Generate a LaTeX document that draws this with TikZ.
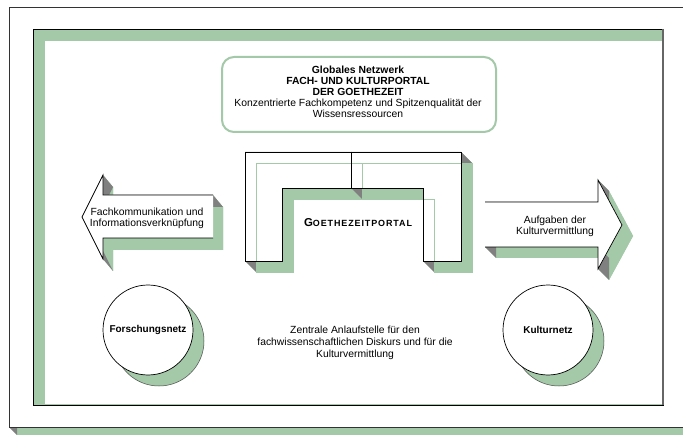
\documentclass[tikz,border=0pt]{standalone}
\usepackage{fontspec}
\setmainfont{Liberation Sans}
\definecolor{leaf}{RGB}{163,201,168}
\definecolor{bevel}{RGB}{128,128,128}
\begin{document}
\begin{tikzpicture}[x=1bp,y=-1bp,font=\fontsize{10.4}{11}\selectfont,
    edge/.style={draw=black,line width=0.7bp},
    backline/.style={leaf,line width=0.6bp},
    txt/.style={align=center,inner sep=0pt}]
    \useasboundingbox (0,0) rectangle (683,435);
    \clip (0,0) rectangle (683,435);
    % outer frame
    \fill[leaf] (17,15) rectangle (700,440);
    \fill[bevel] (9,427) -- (17,435) -- (17,427) -- cycle;
    \filldraw[fill=white,draw=black!80,line width=0.8bp] (9,7) rectangle (700,427);
    % inner frame
    \filldraw[fill=leaf,draw=black,line width=0.8bp] (33,29) rectangle (663,405);
    \fill[white] (45,41) rectangle (662,404);
    \draw[black!60,line width=1.6bp] (663,29) -- (663,405);
    % top box
    \draw[leaf,line width=2bp,rounded corners=12bp] (222,57) rectangle (496,132);
    \node[txt] (netz) at (358,92) {\textbf{Globales Netzwerk}\\ \textbf{FACH- UND KULTURPORTAL}\\ \textbf{DER GOETHEZEIT}\\ Konzentrierte Fachkompetenz und Spitzenqualität der\\ Wissensressourcen};
    % portal
    \fill[leaf,shift={(11,11)}] (245,152) -- (351,152) -- (351,188) -- (282,188) -- (282,261) -- (245,261) -- cycle;
    \fill[leaf,shift={(11,11)}] (351,152) -- (461,152) -- (461,261) -- (423,261) -- (423,188) -- (351,188) -- cycle;
    \foreach \xa/\ya/\xb/\yb/\c in {351/152/351/188/leaf, 351/188/282/188/leaf, 282/188/282/261/leaf, 282/261/245/261/leaf,
        461/152/461/261/leaf, 461/261/423/261/leaf, 423/188/351/188/leaf,
        245/261/245/152/bevel, 245/152/351/152/bevel, 351/152/461/152/bevel, 423/261/423/188/bevel, 351/188/351/152/bevel}
        \fill[\c] (\xa,\ya) -- (\xb,\yb) -- (\xb+11,\yb+11) -- (\xa+11,\ya+11) -- cycle;
    \fill[white] (245,152) -- (461,152) -- (461,261) -- (423,261) -- (423,188) -- (282,188) -- (282,261) -- (245,261) -- cycle;
    \draw[backline,shift={(11,11)}] (245,152) -- (461,152) -- (461,261) -- (423,261) -- (423,188) -- (282,188) -- (282,261) -- (245,261) -- cycle (351,152) -- (351,188);
    \draw[edge] (245,152) -- (461,152) -- (461,261) -- (423,261) -- (423,188) -- (282,188) -- (282,261) -- (245,261) -- cycle (351,152) -- (351,188);
    \node[txt,font=\bfseries] (portal) at (358,223) {{\fontsize{11.5}{12}\selectfont G}{\addfontfeature{LetterSpace=10}\fontsize{9}{10}\selectfont OETHEZEITPORTAL}};
    % left arrow
    \fill[leaf,shift={(10,12)}] (82,217) -- (103,175) -- (103,195) -- (213,195) -- (213,238) -- (103,238) -- (103,259) -- cycle;
    \foreach \xa/\ya/\xb/\yb/\c in {103/175/103/195/leaf, 213/195/213/238/leaf, 213/238/103/238/leaf, 103/238/103/259/leaf,
        82/217/103/175/bevel, 103/195/213/195/bevel, 103/259/82/217/bevel}
        \fill[\c] (\xa,\ya) -- (\xb,\yb) -- (\xb+10,\yb+12) -- (\xa+10,\ya+12) -- cycle;
    \fill[white] (82,217) -- (103,175) -- (103,195) -- (213,195) -- (213,238) -- (103,238) -- (103,259) -- cycle;
    \draw[edge] (213,195) -- (103,195) -- (103,175) -- (82,217) -- (103,259) -- (103,238) -- (213,238);
    \node[txt] (fachkomm) at (147,218) {Fachkommunikation und\\ Informationsverknüpfung};
    % right arrow
    \fill[leaf,shift={(11,11)}] (485,202) -- (598,202) -- (598,180) -- (622,225) -- (598,269) -- (598,247) -- (485,247) -- cycle;
    \foreach \xa/\ya/\xb/\yb/\c in {598/180/622/225/leaf, 622/225/598/269/leaf, 598/247/485/247/leaf,
        598/269/598/247/bevel, 485/247/485/202/bevel, 485/202/598/202/bevel, 598/202/598/180/bevel}
        \fill[\c] (\xa,\ya) -- (\xb,\yb) -- (\xb+11,\yb+11) -- (\xa+11,\ya+11) -- cycle;
    \fill[white] (485,202) -- (598,202) -- (598,180) -- (622,225) -- (598,269) -- (598,247) -- (485,247) -- cycle;
    \draw[edge] (485,202) -- (598,202) -- (598,180) -- (622,225) -- (598,269) -- (598,247) -- (485,247);
    \node[txt] (aufgaben) at (555,226) {Aufgaben der\\ Kulturvermittlung};
    % circles
    \foreach \n/\x/\t in {forschung/148/Forschungsnetz, kultur/548/Kulturnetz} {
        \filldraw[fill=leaf,draw=black!70,line width=0.5bp] (\x+11,341) circle[radius=45bp];
        \filldraw[fill=white,edge] (\x,330) circle[radius=45bp];
        \node[txt,font=\bfseries] (\n) at (\x,330) {\t};
    }
    % bottom text
    \node[txt,font=\fontsize{10.4}{12}\selectfont] (zentrale) at (355,343) {Zentrale Anlaufstelle für den\\ fachwissenschaftlichen Diskurs und für die\\ Kulturvermittlung};
\end{tikzpicture}
\end{document}
